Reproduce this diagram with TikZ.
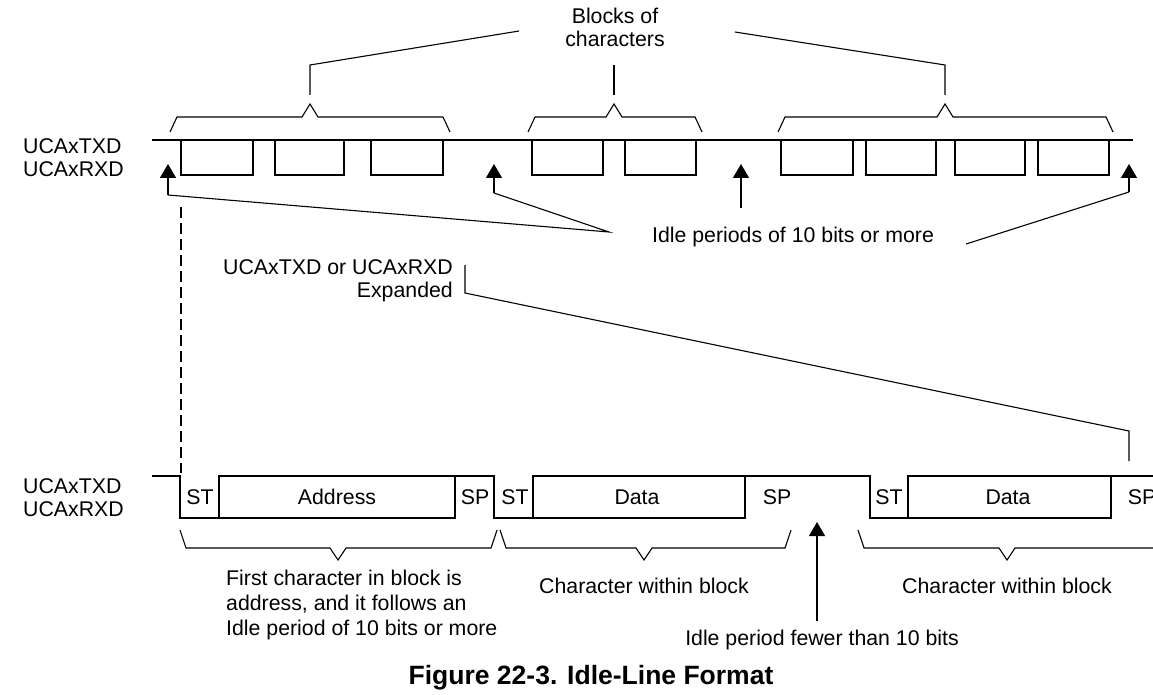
\documentclass[tikz,border=0pt]{standalone}
\usepackage{fontspec}
\setmainfont{Liberation Sans}
\usetikzlibrary{positioning,arrows.meta}

\begin{document}
\begin{tikzpicture}[
    x=1pt, y=-1pt,
    every node/.style={font=\fontsize{21.3}{23}\selectfont, inner sep=0pt},
    wave/.style={line width=2.2pt},
    lead/.style={line width=1.1pt},
    idlearrow/.style={lead, -{Triangle[length=14pt, width=16pt]}},
    pinlabel/.style={align=left, anchor=west},
    bitlabel/.style={anchor=center}
]
\fill[white] (0,0) rectangle (1153,695);
\useasboundingbox (0,0) rectangle (1153,695);

% compressed line
\node[pinlabel] (pinsTop) at (23,158) {UCAxTXD\\UCAxRXD};
\draw[wave] (152,140) -- (1133,140);
\foreach \a/\b in {181/253, 275/344, 371/443, 532/603, 625/696, 781/853, 866/936, 955/1025, 1038/1109}
    \draw[wave] (\a,140) -- (\a,175) -- (\b,175) -- (\b,140);

\node[align=center] (blocks) at (615,27) {Blocks of\\characters};
\foreach \l/\t/\r in {170/310/450, 528/614/702, 778/945/1113}
    \draw[lead] (\l,132) -- (\l+7,117) -- (\t-8,117) -- (\t,104) -- (\t+8,117) -- (\r-7,117) -- (\r,132);
\coordinate (blkA) at (310,95);
\coordinate (blkB) at (614,95);
\coordinate (blkC) at (945,95);
\draw[lead] (blkA) -- (310,65) -- ([xshift=-46pt,yshift=-4pt]blocks.west);
\draw[lead] (blkB) -- (614,65);
\draw[lead] (blkC) -- (945,65) -- (735,32);

\coordinate (idleA) at (168,195);
\coordinate (idleB) at (494,193);
\coordinate (idleC) at (741,208);
\coordinate (idleD) at (1129,192);
\coordinate (meet) at (609,232);
\node (idle) at (793,237) {Idle periods of 10 bits or more};
\draw[idlearrow] (idleA) -- (168,164);
\draw[idlearrow] (idleB) -- (494,164);
\draw[idlearrow] (idleC) -- (741,164);
\draw[idlearrow] (idleD) -- (1129,164);
\draw[lead] (idleA) -- (meet) -- (idleB);
\draw[lead] ([xshift=32pt,yshift=-7pt]idle.east) -- (idleD);

\draw[lead, dash pattern=on 11pt off 5pt] (181,207) -- (181,473);

\node[align=right, anchor=east] (expanded) at (453,281) {UCAxTXD or UCAxRXD\\Expanded};
\coordinate (zoomEnd) at (1129,461);
\draw[lead] (465,265) -- (465,293) -- (1129,431) -- (zoomEnd);

% expanded line
\node[pinlabel] (pinsBot) at (23,498) {UCAxTXD\\UCAxRXD};
\draw[wave] (152,476) -- (180,476) -- (180,518) -- (455,518) -- (455,476);
\draw[wave] (219,518) -- (219,476) -- (494,476) -- (494,518) -- (745,518) -- (745,476);
\draw[wave] (533,518) -- (533,476) -- (870,476) -- (870,518) -- (1111,518) -- (1111,476);
\draw[wave] (908,518) -- (908,476) -- (1160,476);

\node[bitlabel] (st1) at (200,497) {ST};
\node[bitlabel] (addr) at (337,497) {Address};
\node[bitlabel] (sp1) at (475,497) {SP};
\node[bitlabel] (st2) at (515,497) {ST};
\node[bitlabel] (data1) at (637,497) {Data};
\node[bitlabel] (sp2) at (777,497) {SP};
\node[bitlabel] (st3) at (889,497) {ST};
\node[bitlabel] (data2) at (1008,497) {Data};
\node[bitlabel] (sp3) at (1142,497) {SP};

\foreach \l/\t/\r in {180/338/497, 500/644/791, 858/1007/1165}
    \draw[lead] (\l,530) -- (\l+6,548) -- (\t-8,548) -- (\t,560) -- (\t+8,548) -- (\r-6,548) -- (\r,530);

\node[align=left, anchor=north west, font=\fontsize{21.3}{25}\selectfont] (first) at (226,570)
    {First character in block is\\address, and it follows an\\Idle period of 10 bits or more};
\node (within1) at (644,586) {Character within block};
\node (within2) at (1007,586) {Character within block};

\coordinate (shortIdle) at (817,621);
\draw[idlearrow] (shortIdle) -- (817,522);
\node[below=9pt of shortIdle, xshift=5pt] (fewer) {Idle period fewer than 10 bits};

\node[font=\bfseries\fontsize{26.5}{30}\selectfont] (title) at (591,678) {Figure 22-3. Idle-Line Format};
\end{tikzpicture}
\end{document}
